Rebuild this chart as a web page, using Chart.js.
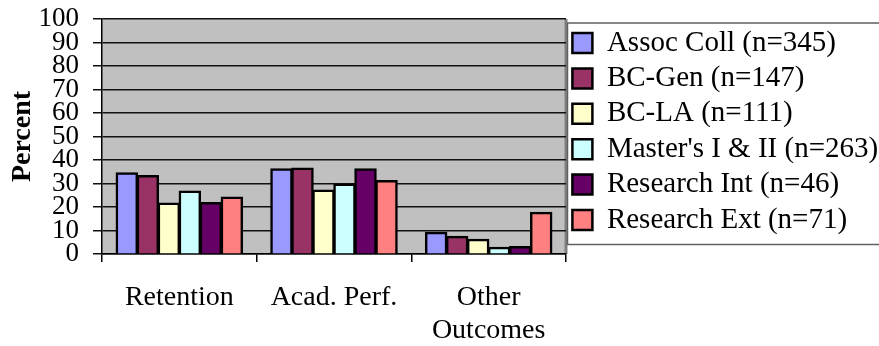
<!DOCTYPE html>
<html>
<head>
<meta charset="utf-8">
<title>Outcomes by institution type</title>
<script src="https://cdn.jsdelivr.net/npm/chart.js@4/dist/chart.umd.min.js"></script>
<style>
  html, body { margin: 0; padding: 0; background: #fff; }
  #wrap { width: 879px; height: 346px; position: relative; }
</style>
</head>
<body>
<div id="wrap"><canvas id="myChart"></canvas></div>
<script>
// outcome groups along the x axis
const categories = ['Retention', 'Acad. Perf.', ['Other', 'Outcomes']];

// institution types (legend entries)
const seriesNames = [
  'Assoc Coll (n=345)',
  'BC-Gen (n=147)',
  'BC-LA (n=111)',
  "Master's I & II (n=263)",
  'Research Int (n=46)',
  'Research Ext (n=71)'
];

// percent per outcome, one array per institution type
const assocColl   = [34.5, 36.2, 9.2];
const bcGen       = [33.3, 36.5, 7.4];
const bcLA        = [21.6, 27.1, 6.2];
const masters     = [26.7, 29.7, 2.8];
const researchInt = [21.8, 36.2, 3.1];
const researchExt = [24.1, 31.2, 17.7];

const seriesValues = [assocColl, bcGen, bcLA, masters, researchInt, researchExt];
const seriesColors = ['#9999FF', '#993366', '#FFFFCC', '#CCFFFF', '#660066', '#FF8080'];

const serif = "'Liberation Serif', 'Times New Roman', serif";

// grey plot background + legend frame
const plotFrame = {
  id: 'plotFrame',
  beforeDraw(chart) {
    const { ctx, chartArea: a } = chart;
    ctx.save();
    ctx.fillStyle = '#C0C0C0';
    ctx.fillRect(a.left, a.top, a.right - a.left, a.bottom - a.top);
    ctx.strokeStyle = '#808080';
    ctx.lineWidth = 3;
    ctx.beginPath();
    ctx.moveTo(a.right, a.top);
    ctx.lineTo(a.right, a.bottom);
    ctx.stroke();
    ctx.restore();
  },
  afterDraw(chart) {
    const lg = chart.legend;
    const boxes = lg.legendHitBoxes;
    if (!boxes || !boxes.length) return;
    const last = boxes[boxes.length - 1];
    const top = boxes[0].top - 5.5;
    const bottom = last.top + last.height + 10;
    const ctx = chart.ctx;
    ctx.save();
    ctx.strokeStyle = '#606060';
    ctx.lineWidth = 1.5;
    ctx.strokeRect(lg.left + 1.5, top, chart.width, bottom - top);
    ctx.restore();
  }
};

const ctx = document.getElementById('myChart').getContext('2d');
const myChart = new Chart(ctx, {
  type: 'bar',
  data: {
    labels: categories,
    datasets: seriesNames.map((name, i) => ({
      label: name,
      data: seriesValues[i],
      backgroundColor: seriesColors[i],
      borderColor: '#000',
      borderWidth: 2.5,
      inflateAmount: 0.75,
      categoryPercentage: 0.815,
      barPercentage: 1.0
    }))
  },
  options: {
    responsive: true,
    maintainAspectRatio: false,
    animation: false,
    layout: { padding: { top: 19 } },
    plugins: {
      tooltip: { enabled: false },
      legend: {
        position: 'right',
        align: 'start',
        maxWidth: 313,
        title: {
          display: true,
          text: ' ',
          font: { size: 2, lineHeight: 1 },
          padding: { top: 1.1, bottom: 0 }
        },
        labels: {
          boxWidth: 20,
          boxHeight: 20,
          padding: 6.4,
          color: '#000',
          font: { family: serif, size: 29 }
        }
      }
    },
    scales: {
      x: {
        afterFit(scale) {
          scale.height = 92;
          scale.paddingLeft = 0;
          scale.paddingRight = 0;
        },
        grid: { drawOnChartArea: false, color: '#000', lineWidth: 1.5, tickLength: 8 },
        border: { color: '#000', width: 1.5 },
        ticks: {
          color: '#000',
          padding: 19.5,
          maxRotation: 0,
          autoSkip: false,
          font: { family: serif, size: 28, lineHeight: 1.18 }
        }
      },
      y: {
        min: 0,
        max: 100,
        afterFit(scale) {
          scale.width = 102;
          scale.paddingTop = 0;
          scale.paddingBottom = 0;
        },
        grid: { color: '#111', lineWidth: 1.5, tickLength: 9 },
        border: { color: '#000', width: 1.5 },
        ticks: {
          stepSize: 10,
          autoSkip: false,
          color: '#000',
          padding: 14,
          font: { family: serif, size: 27 }
        },
        title: {
          display: true,
          text: 'Percent',
          color: '#000',
          padding: { top: 8.5, bottom: 0.5 },
          font: { family: serif, size: 28, weight: 'bold', lineHeight: 1 }
        }
      }
    }
  },
  plugins: [plotFrame]
});
</script>
</body>
</html>
